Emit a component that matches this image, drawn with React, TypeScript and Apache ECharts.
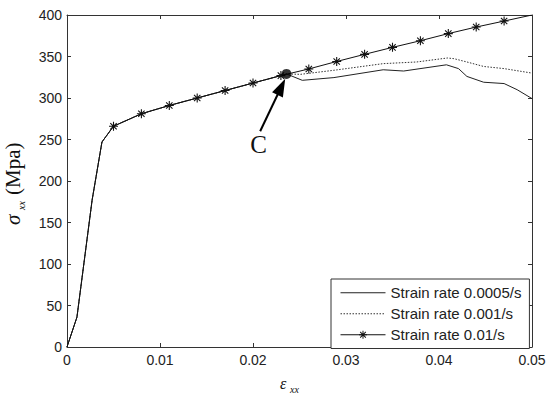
import React, { useEffect, useRef } from "react";
import * as echarts from "echarts";

// Shared elastic part (strain, stress MPa)
const elasticStrain = [0, 0.00107, 0.0027, 0.00376];
const elasticStress = [0, 36, 177, 247];

// Strain rate 0.01/s (asterisk markers)
const starStrain = [0.005, 0.008, 0.011, 0.014, 0.017, 0.02, 0.023, 0.026, 0.029, 0.032, 0.035, 0.038, 0.041, 0.044, 0.047];
const starStress = [266, 281, 291, 300, 309, 318, 327, 335, 344, 352.6, 361, 369, 377.6, 385.5, 392.7];
const starEnd = [0.05, 400];

// Point C
const pointC = [0.0236, 329];

// Strain rate 0.0005/s after C
const solidStrain = [0.0253, 0.0287, 0.034, 0.0362, 0.0408, 0.0421, 0.043, 0.0448, 0.047, 0.0484, 0.05];
const solidStress = [321.3, 324.6, 334, 332.5, 340, 335.4, 326, 319, 317.4, 310, 299.3];

// Strain rate 0.001/s after C
const dottedStrain = [0.0251, 0.0287, 0.034, 0.0376, 0.0409, 0.0416, 0.043, 0.0448, 0.047, 0.05];
const dottedStress = [328.5, 333.4, 341.4, 343.4, 348.2, 347.4, 343.4, 338, 335.4, 330];

// Arrow (annotation) tail / head centre in data coordinates
const arrowTail = [0.02077, 260];
const arrowHead = [0.02305, 313.5];

const seriesNames = ["Strain rate 0.0005/s", "Strain rate 0.001/s", "Strain rate 0.01/s"];
const xTicks = { min: 0, max: 0.05, interval: 0.01 };
const yTicks = { min: 0, max: 400, interval: 50 };

const STAR =
  "path://M-0.6,-5 L0.6,-5 L0.6,5 L-0.6,5 Z M-5,-0.6 L5,-0.6 L5,0.6 L-5,0.6 Z M-3.12,-3.96 L3.96,3.12 L3.12,3.96 L-3.96,-3.12 Z M-3.96,3.12 L3.12,-3.96 L3.96,-3.12 L-3.12,3.96 Z";

export default function App() {
  const ref = useRef<HTMLDivElement>(null);
  useEffect(() => {
    if (!ref.current) return;
    const chart = echarts.init(ref.current, undefined, { renderer: "svg" });

    const elastic = elasticStrain.map((x, i) => [x, elasticStress[i]]);
    const stars = starStrain.map((x, i) => [x, starStress[i]]);
    const preC = stars.filter((p) => p[0] < pointC[0]);
    const solidData = [...elastic, ...preC, pointC, ...solidStrain.map((x, i) => [x, solidStress[i]])];
    const dottedData = [...elastic, ...preC, pointC, ...dottedStrain.map((x, i) => [x, dottedStress[i]])];
    const starData = [
      ...elastic.map((p) => ({ value: p, symbol: "none" })),
      ...stars.map((p) => ({ value: p })),
      { value: starEnd, symbol: "none" },
    ];

    const axisCommon = {
      axisLine: { show: true, onZero: false, lineStyle: { color: "#333", width: 1 } },
      axisTick: { show: true, inside: true, length: 4, lineStyle: { color: "#333" } },
      splitLine: { show: false },
    };
    const labelFont = { color: "#222", fontSize: 14, fontFamily: "Liberation Sans, Arial, sans-serif" };

    chart.setOption({
      animation: false,
      grid: { left: 67, right: 18, top: 15, bottom: 52 },
      xAxis: [
        { type: "value", ...xTicks, position: "bottom", ...axisCommon, axisLabel: { ...labelFont, margin: 6 } },
        { type: "value", ...xTicks, position: "top", ...axisCommon, axisLabel: { show: false } },
      ],
      yAxis: [
        { type: "value", ...yTicks, position: "left", ...axisCommon, axisLabel: { ...labelFont, margin: 5 } },
        { type: "value", ...yTicks, position: "right", ...axisCommon, axisLabel: { show: false } },
      ],
      legend: {
        data: [
          { name: seriesNames[0], itemStyle: { opacity: 0 }, lineStyle: { width: 1 } },
          { name: seriesNames[1], itemStyle: { opacity: 0 }, lineStyle: { width: 1 } },
          { name: seriesNames[2], lineStyle: { width: 1 } },
        ],
        orient: "vertical",
        left: 331,
        top: 279,
        padding: [6.25, 8, 6.25, 9],
        itemGap: 6,
        itemWidth: 45,
        itemHeight: 10,
        backgroundColor: "#fff",
        borderColor: "#333",
        borderWidth: 1,
        borderRadius: 0,
        textStyle: { color: "#222", fontSize: 15, fontFamily: "Liberation Sans, Arial, sans-serif" },
      },
      series: [
        {
          name: seriesNames[0],
          type: "line",
          data: solidData,
          symbol: "none",
          lineStyle: { color: "#222", width: 1, type: "solid" },
          itemStyle: { color: "#222" },
          z: 2,
        },
        {
          name: seriesNames[1],
          type: "line",
          data: dottedData,
          symbol: "none",
          lineStyle: { color: "#333", width: 1, type: [1.5, 1.5] },
          itemStyle: { color: "#333" },
          z: 2,
        },
        {
          name: seriesNames[2],
          type: "line",
          data: starData,
          symbol: STAR,
          symbolSize: 9,
          showAllSymbol: true,
          lineStyle: { color: "#111", width: 1 },
          itemStyle: { color: "#111" },
          z: 3,
        },
        {
          name: "C",
          type: "scatter",
          data: [pointC],
          symbol: "circle",
          symbolSize: 10,
          itemStyle: { color: "#000" },
          z: 5,
          silent: true,
          markLine: {
            silent: true,
            symbol: ["none", "triangle"],
            symbolSize: [12, 18],
            label: { show: false },
            lineStyle: { color: "#000", width: 2, type: "solid" },
            data: [[{ coord: arrowTail }, { coord: arrowHead }]],
          },
        },
      ],
      graphic: [
        {
          type: "text",
          x: 258.5,
          y: 144,
          style: {
            text: "C",
            font: "25px 'Liberation Serif', 'Times New Roman', serif",
            fill: "#111",
            align: "center",
            verticalAlign: "middle",
          },
        },
        {
          type: "group",
          x: 16,
          y: 225,
          rotation: Math.PI / 2,
          children: [
            {
              type: "text",
              x: 0,
              y: -3.5,
              style: {
                text: "σ",
                font: "italic 21px 'Liberation Serif', 'Times New Roman', serif",
                fill: "#111",
                align: "left",
                verticalAlign: "middle",
              },
            },
            {
              type: "text",
              x: 15,
              y: 5.5,
              style: {
                text: "xx",
                font: "italic 10px 'Liberation Serif', 'Times New Roman', serif",
                fill: "#111",
                align: "left",
                verticalAlign: "middle",
              },
            },
            {
              type: "text",
              x: 30,
              y: -3.5,
              style: {
                text: "(Mpa)",
                font: "21px 'Liberation Serif', 'Times New Roman', serif",
                fill: "#111",
                align: "left",
                verticalAlign: "middle",
              },
            },
          ],
        },
        {
          type: "text",
          x: 280,
          y: 383.5,
          style: {
            text: "ε",
            font: "italic 16px 'Liberation Serif', 'Times New Roman', serif",
            fill: "#111",
            align: "left",
            verticalAlign: "middle",
          },
        },
        {
          type: "text",
          x: 290,
          y: 389.5,
          style: {
            text: "xx",
            font: "italic 10px 'Liberation Serif', 'Times New Roman', serif",
            fill: "#111",
            align: "left",
            verticalAlign: "middle",
          },
        },
      ],
    });
    return () => chart.dispose();
  }, []);
  return <div ref={ref} style={{ width: 550, height: 399, position: "absolute", left: 0, top: 0 }} />;
}
